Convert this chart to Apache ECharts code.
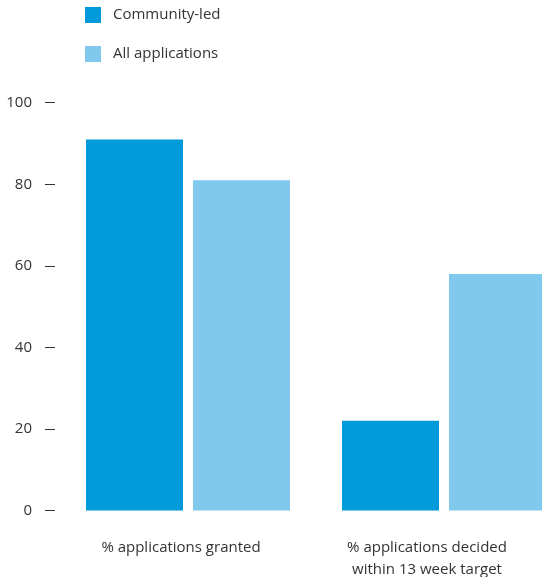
<!DOCTYPE html>
<html>
<head>
<meta charset="utf-8">
<script src="https://cdn.jsdelivr.net/npm/echarts@6/dist/echarts.min.js"></script>
<style>
  html, body { margin: 0; padding: 0; background: #fff; }
  #chart { width: 542px; height: 577px; }
</style>
</head>
<body>
<div id="chart"></div>
<script>
// Planning outcomes: community-led applications vs all applications (%)
const categories = ['% applications granted', '% applications decided\nwithin 13 week target'];
const communityLed = [91, 22];
const allApplications = [81, 58];
const yTicks = [0, 20, 40, 60, 80, 100];

const FONT = '"Open Sans", "Noto Sans", sans-serif';
const TEXT = '#333333';

const chart = echarts.init(document.getElementById('chart'), null, { renderer: 'canvas' });

chart.setOption({
  animation: false,
  backgroundColor: '#ffffff',
  textStyle: { fontFamily: FONT },
  legend: {
    orient: 'vertical',
    left: 85,
    top: 7,
    padding: 0,
    itemWidth: 16,
    itemHeight: 16,
    itemGap: 23,
    icon: 'rect',
    selectedMode: false,
    textStyle: { fontFamily: FONT, fontSize: 15, color: TEXT, padding: [0, 0, 0, 7] },
    data: ['Community-led', 'All applications']
  },
  grid: { left: 60, right: -30, top: 102.7, bottom: 66.5, outerBoundsMode: 'none', containLabel: false },
  xAxis: {
    type: 'category',
    data: [
      { value: categories[0], textStyle: { padding: [0, 14, 0, 0] } },
      { value: categories[1], textStyle: { padding: [0, 34, 0, 0] } }
    ],
    axisLine: { show: false },
    axisTick: { show: false },
    axisLabel: {
      margin: 26,
      fontFamily: FONT,
      fontSize: 15,
      color: TEXT,
      lineHeight: 22,
      interval: 0
    }
  },
  yAxis: {
    type: 'value',
    min: yTicks[0],
    max: yTicks[yTicks.length - 1],
    interval: yTicks[1] - yTicks[0],
    offset: 5,
    splitLine: { show: false },
    axisLine: { show: false },
    axisTick: { show: true, length: 10, lineStyle: { color: TEXT, width: 1 } },
    axisLabel: { margin: 23, fontFamily: FONT, fontSize: 15, color: TEXT }
  },
  series: [
    {
      name: 'Community-led',
      type: 'bar',
      data: communityLed,
      barWidth: 97,
      barGap: '10.3%',
      itemStyle: { color: '#0099da' }
    },
    {
      name: 'All applications',
      type: 'bar',
      data: allApplications,
      barWidth: 97,
      itemStyle: { color: '#80c9ed' }
    }
  ]
});
</script>
</body>
</html>
